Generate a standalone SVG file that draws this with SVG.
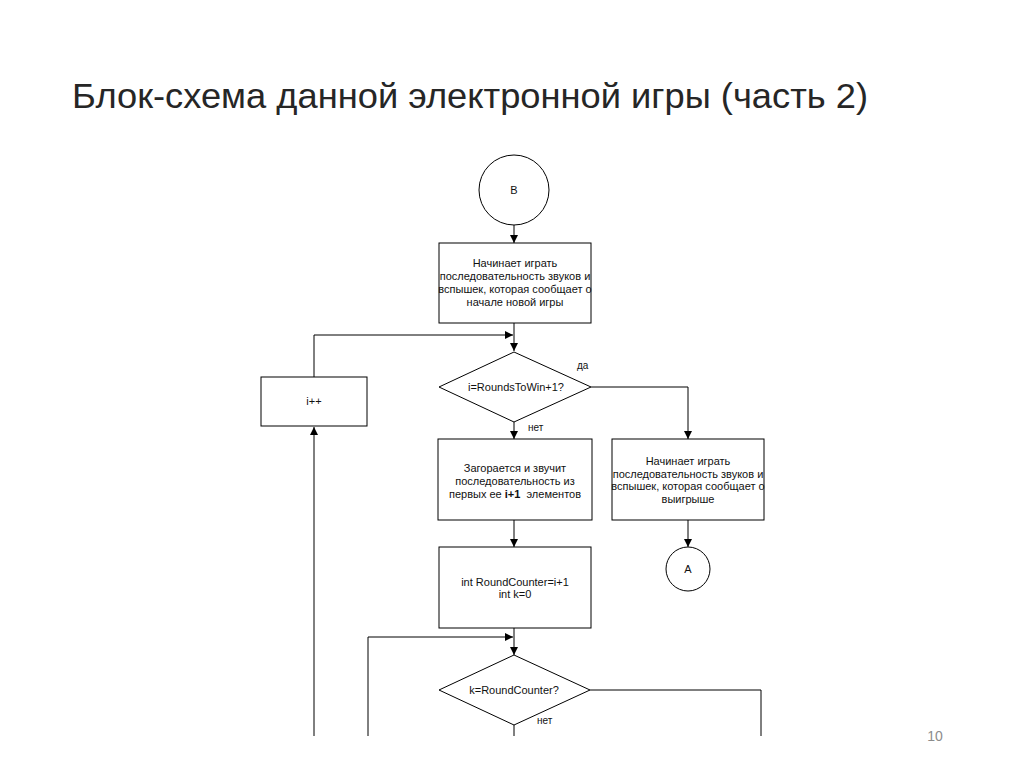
<svg xmlns="http://www.w3.org/2000/svg" width="1024" height="767" viewBox="0 0 1024 767">
<defs>
<style>
.n{fill:#fff;stroke:#000;stroke-width:1}
.c{fill:none;stroke:#000;stroke-width:1}
.t{font-family:"Liberation Sans",Arial,sans-serif;font-size:11px;fill:#111;text-anchor:middle}
.l{font-family:"Liberation Sans",Arial,sans-serif;font-size:10px;fill:#111}
</style>
<marker id="ah" viewBox="0 0 8 8" refX="8" refY="4" markerWidth="8" markerHeight="8" markerUnits="userSpaceOnUse" orient="auto">
<path d="M0,0 L8,4 L0,8 Z" fill="#000"/>
</marker>
</defs>
<rect width="1024" height="767" fill="#fff"/>
<text x="72" y="108" font-family="'Liberation Sans',Arial,sans-serif" font-size="35" fill="#262626" textLength="796" lengthAdjust="spacingAndGlyphs">Блок-схема данной электронной игры (часть 2)</text>
<text x="935" y="741" font-family="'Liberation Sans',Arial,sans-serif" font-size="14" fill="#8c8c8c" text-anchor="middle">10</text>

<g id="connectors">
<line class="c" x1="514" y1="225" x2="514" y2="243" marker-end="url(#ah)"/>
<line class="c" x1="514" y1="323" x2="514" y2="351" marker-end="url(#ah)"/>
<polyline class="c" points="314,377 314,335 513,335" marker-end="url(#ah)"/>
<line class="c" x1="514" y1="422" x2="514" y2="439" marker-end="url(#ah)"/>
<polyline class="c" points="591,387 688,387 688,439" marker-end="url(#ah)"/>
<line class="c" x1="688" y1="520" x2="688" y2="547" marker-end="url(#ah)"/>
<line class="c" x1="514" y1="520" x2="514" y2="547" marker-end="url(#ah)"/>
<line class="c" x1="514" y1="628" x2="514" y2="655" marker-end="url(#ah)"/>
<polyline class="c" points="368,736 368,637 513,637" marker-end="url(#ah)"/>
<line class="c" x1="514" y1="725" x2="514" y2="736"/>
<polyline class="c" points="590,690 761,690 761,736"/>
<line class="c" x1="314" y1="736" x2="314" y2="427" marker-end="url(#ah)"/>
<text class="l" x="577" y="369">да</text>
<text class="l" x="528" y="431">нет</text>
<text class="l" x="537" y="724">нет</text>
</g>

<g id="startB">
<circle class="n" cx="514" cy="190" r="35"/>
<text class="t" x="514" y="194">B</text>
</g>
<g id="beginSeq">
<rect class="n" x="439" y="243" width="152" height="80"/>
<text class="t" x="515" y="267">Начинает играть</text>
<text class="t" x="515" y="280">последовательность звуков и</text>
<text class="t" x="515" y="293">вспышек, которая сообщает о</text>
<text class="t" x="515" y="306">начале новой игры</text>
</g>
<g id="incI">
<rect class="n" x="261" y="377" width="106" height="49"/>
<text class="t" x="314" y="405">i++</text>
</g>
<g id="decision1">
<polygon class="n" points="514,352 591,387 514,422 439,387"/>
<text class="t" x="516" y="391">i=RoundsToWin+1?</text>
</g>
<g id="playSeq">
<rect class="n" x="438" y="439" width="154" height="81"/>
<text class="t" x="515" y="472">Загорается и звучит</text>
<text class="t" x="515" y="485">последовательность из</text>
<text class="t" x="515" y="498">первых ее <tspan font-weight="bold">i+1</tspan>&#160; элементов</text>
</g>
<g id="winSeq">
<rect class="n" x="612" y="439" width="152" height="81"/>
<text class="t" x="688" y="465">Начинает играть</text>
<text class="t" x="688" y="478">последовательность звуков и</text>
<text class="t" x="688" y="490">вспышек, которая сообщает о</text>
<text class="t" x="688" y="503">выигрыше</text>
</g>
<g id="endA">
<circle class="n" cx="688" cy="569" r="22"/>
<text class="t" x="688" y="573">A</text>
</g>
<g id="initVars">
<rect class="n" x="439" y="547" width="152" height="81"/>
<text class="t" x="515" y="586">int RoundCounter=i+1</text>
<text class="t" x="515" y="598">int k=0</text>
</g>
<g id="decision2">
<polygon class="n" points="514,655 590,690 514,725 439,690"/>
<text class="t" x="514" y="694">k=RoundCounter?</text>
</g>
</svg>
